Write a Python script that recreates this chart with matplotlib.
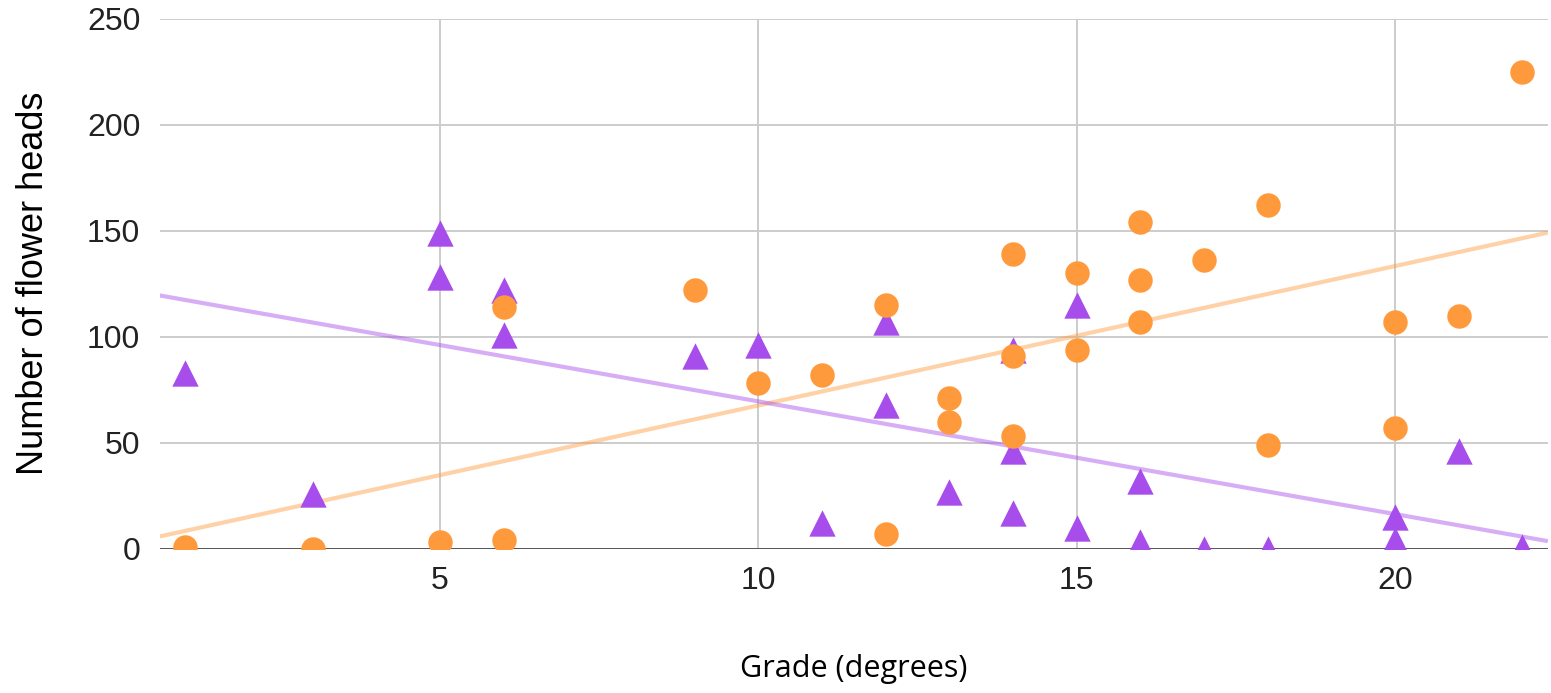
import matplotlib.pyplot as plt
import numpy as np

# circles (orange)
orange_x = [1, 3, 5, 6, 6, 9, 10, 11, 12, 12, 13, 13, 14, 14, 14, 15, 15, 16, 16, 16, 17, 18, 18, 20, 20, 21, 22]
orange_y = [1, 0, 3, 4, 114, 122, 78, 82, 115, 7, 71, 60, 139, 91, 53, 130, 94, 154, 127, 107, 136, 162, 49, 107, 57, 110, 225]

# triangles (purple)
purple_x = [1, 3, 5, 5, 6, 6, 9, 10, 11, 12, 12, 13, 14, 14, 14, 15, 15, 16, 16, 17, 18, 20, 20, 21, 22]
purple_y = [83, 26, 149, 128, 122, 101, 91, 96, 12, 107, 68, 27, 94, 46, 17, 115, 10, 32, 3, 0, 0, 15, 4, 46, 1]

x_ticks = [5, 10, 15, 20]
y_ticks = [0, 50, 100, 150, 200, 250]

orange = '#FF9A3C'
purple = '#A74DEB'

plt.rcParams['font.family'] = ['Liberation Sans', 'DejaVu Sans']

fig = plt.figure(figsize=(15.51, 6.93), dpi=100)
ax = fig.add_axes([0.103, 0.208, 0.895, 0.765])

xlim = (0.6, 22.4)

# trendlines (least squares, like the sheet's linear trendline)
xs = np.array(xlim)
for x, y, c in [(orange_x, orange_y, orange), (purple_x, purple_y, purple)]:
    k, b = np.polyfit(x, y, 1)
    ax.plot(xs, k * xs + b, color=c, alpha=0.45, lw=3, solid_capstyle='butt', zorder=2)

ax.scatter(purple_x, purple_y, marker='^', s=360, color=purple, linewidths=0, zorder=3)
ax.scatter(orange_x, orange_y, marker='o', s=310, color=orange, linewidths=0, zorder=4)

ax.set_xlim(*xlim)
ax.set_ylim(0, 250)
ax.set_xticks(x_ticks)
ax.set_yticks(y_ticks)
ax.grid(True, color='#cccccc', lw=1.4)
ax.set_axisbelow(True)
for s in ax.spines.values():
    s.set_visible(False)
ax.axhline(0, color='#333333', lw=1.8, zorder=2.5)
ax.tick_params(length=0, labelsize=23, colors='#222222', pad=12)
ax.tick_params(axis='y', pad=14)

ax.set_xlabel('Grade (degrees)', fontsize=22, labelpad=42, family=['Open Sans', 'DejaVu Sans'])
ax.set_ylabel('Number of flower heads', fontsize=26, labelpad=26)

plt.savefig('out.png')
